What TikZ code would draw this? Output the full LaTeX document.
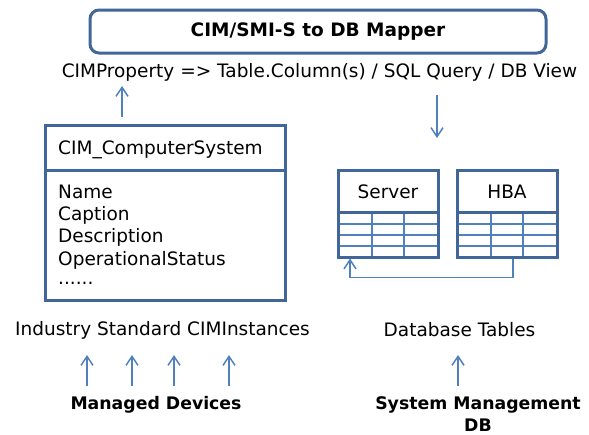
\documentclass[tikz,border=0pt]{standalone}
\usepackage{fontspec}
\setmainfont{DejaVu Sans}
\usetikzlibrary{arrows.meta}
\definecolor{boxblue}{HTML}{41679A}
\definecolor{lineblue}{HTML}{4F81BD}
\begin{document}
\begin{tikzpicture}[x=1pt,y=-1pt,
  frame/.style={draw=boxblue,line width=3pt},
  grid/.style={draw=lineblue,line width=1.3pt},
  uparrow/.style={draw=lineblue,line width=1.5pt,-{Straight Barb[length=9pt,width=12pt]}},
  txt/.style={font=\fontsize{18.5}{22}\selectfont,inner sep=0pt},
  btxt/.style={font=\fontsize{17.3}{22}\selectfont\bfseries,inner sep=0pt,align=center}]
\useasboundingbox (0,0) rectangle (589,434);

% mapper box and mapping rule
\node[frame,rounded corners=9pt,minimum width=456pt,minimum height=43pt,inner sep=0pt,
      font=\fontsize{18.5}{22}\selectfont\bfseries] (mapper) at (318,31.5) {CIM/SMI-S to DB Mapper};
\node[txt] (rule) at (319.5,72) {CIMProperty => Table.Column(s) / SQL Query / DB View};
\coordinate (ruleL) at (122,86);
\coordinate (ruleR) at (437,95);

% CIM class box
\draw[frame] (45,125) rectangle (285,300);
\draw[frame] (45,170) -- (285,170);
\node[txt,anchor=west] (clsname) at (58,150) {CIM\_ComputerSystem};
\foreach \t [count=\i] in {Name,Caption,Description,OperationalStatus}
  \node[txt,anchor=base west] (attr\i) at (58,198+22.4*\i-22.4) {\t};
\node[txt,anchor=base west] (more) at (58,284) {......};

% database tables
\foreach \n/\x/\t in {srv/338/Server,hba/457/HBA}{
  \foreach \yy in {224,235,246} \draw[grid] (\x,\yy) -- (\x+100,\yy);
  \draw[grid] (\x+34,212) -- (\x+34,257);
  \draw[grid] (\x+66,212) -- (\x+66,257);
  \draw[frame] (\x,170) rectangle (\x+100,257);
  \draw[frame] (\x,212) -- (\x+100,212);
  \node[txt] (\n) at (\x+50,191.5) {\t};
}
\coordinate (srvB) at (350,258.5);
\coordinate (hbaB) at (513,258.5);
\coordinate (tblT) at (437,138);
\draw[uparrow] (hbaB) |- (430,277.5) -| (srvB);

% captions
\node[txt] (inst) at (162.5,330) {Industry Standard CIMInstances};
\node[txt] (dbt) at (459.5,330) {Database Tables};
\node[btxt] (devs) at (156,405) {Managed Devices};
\node[btxt,anchor=north] (smdb) at (478,396) {System Management\\DB};

% arrows
\draw[uparrow] (122,117) -- (ruleL);
\draw[uparrow] (ruleR) -- (tblT);
\foreach \x in {87,132,174,229} \draw[uparrow] (\x,386) -- (\x,355);
\draw[uparrow] (458,386) -- (458,355);
\end{tikzpicture}
\end{document}
